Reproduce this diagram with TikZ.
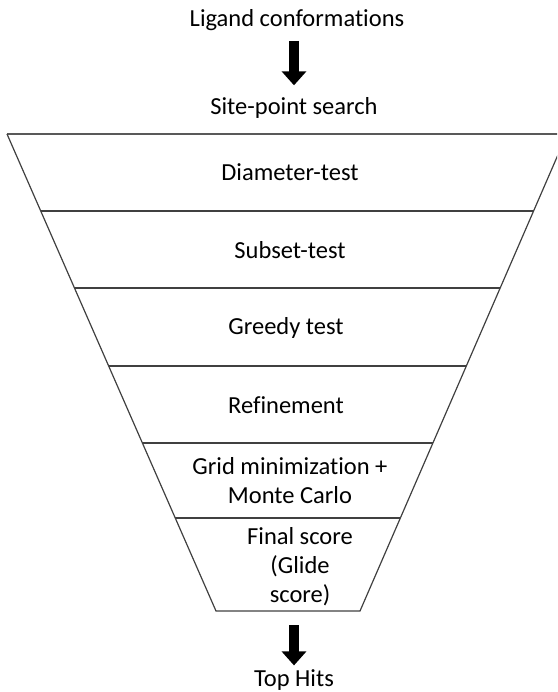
\documentclass[tikz,border=0pt]{standalone}
\usepackage{fontspec}
\setmainfont{Carlito}[Ligatures=NoCommon]
\usetikzlibrary{arrows.meta,calc}

\begin{document}
\begin{tikzpicture}[x=1pt,y=-1pt,
  stage/.style={font=\fontsize{24.5}{29}\selectfont, align=center, inner sep=0pt},
  bigarrow/.style={line width=10pt, -{Triangle[width=24pt,length=14pt]}},
  divider/.style={line width=1.2pt, draw=black!75}]
\useasboundingbox (0,0) rectangle (557,692);
\clip (0,0) rectangle (557,692);

% funnel outline
\coordinate (tl) at (7,134);
\coordinate (tr) at (567,134);
\coordinate (bl) at (216,611);
\coordinate (br) at (360,611);
\coordinate (bm) at ($(bl)!0.5!(br)$);
\draw[line width=2pt, draw=black!65] (tl) -- (tr);
\draw[divider] (tl) -- (bl) -- (br) -- (tr);
\foreach \t in {0.1614,0.3229,0.4864,0.6478,0.805}
  \draw[divider] ($(tl)!\t!(bl)$) -- ($(tr)!\t!(br)$);

% stages
\node[stage] (lig) at (297,20) {Ligand conformations};
\node[stage] (site) at (294,108) {Site-point search};
\node[stage] (diam) at (290,172) {Diameter-test};
\node[stage] (subset) at (290,250) {Subset-test};
\node[stage] (greedy) at (286,328) {Greedy test};
\node[stage] (refine) at (286,405) {Refinement};
\node[stage] (grid) at (290,481) {Grid minimization +\\Monte Carlo};
\node[stage, text depth=0pt] (final) at (300,565) {Final score\\(Glide\\score)};
\node[stage] (hits) at (294,680) {Top Hits};

% arrows
\draw[bigarrow, shorten <=10pt, shorten >=12pt] (lig.south -| site.north) -- (site.north);
\draw[bigarrow, shorten <=14pt, shorten >=4pt] (bm -| hits.north) -- (hits.north);
\end{tikzpicture}
\end{document}
